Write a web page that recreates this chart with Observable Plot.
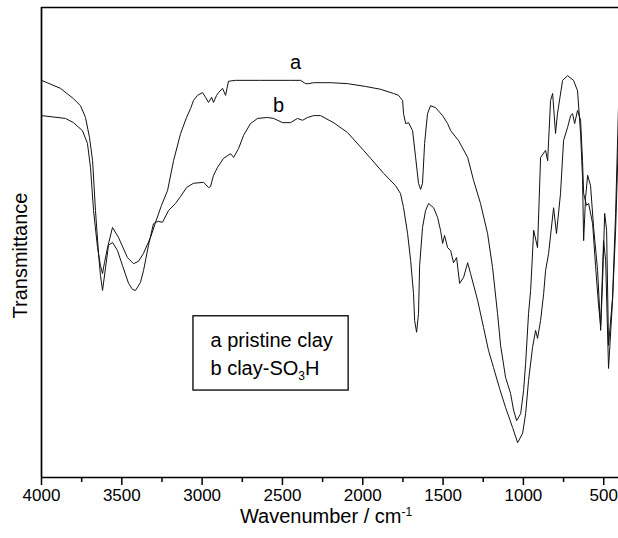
<!DOCTYPE html>
<html><head><meta charset="utf-8">
<script src="https://cdn.jsdelivr.net/npm/d3@7"></script>
<script src="https://cdn.jsdelivr.net/npm/@observablehq/plot@0.6"></script>
<style>body{margin:0;background:#fff;} #chart{width:618px;height:538px;}</style>
</head><body><div id="chart"></div>
<script>
// Spectrum a: pristine clay  [wavenumber cm-1, transmittance (a.u.)]
const seriesA = [[4000,84.5],[3882,82.8],[3801,80.6],[3757,79.1],[3726,76.6],[3701,72.3],[3682,67.4],[3664,56.8],[3645,47.7],[3633,43.0],[3620,39.8],[3601,44.7],[3583,49.4],[3558,50.0],[3527,48.3],[3496,45.1],[3458,41.3],[3433,40.0],[3415,39.8],[3384,41.5],[3365,44.0],[3334,49.4],[3303,54.0],[3290,54.3],[3253,57.9],[3215,61.1],[3178,67.4],[3134,73.2],[3097,76.6],[3072,78.5],[3054,80.2],[3029,81.3],[2997,81.9],[2979,80.9],[2960,79.8],[2941,80.9],[2929,79.8],[2910,81.3],[2898,81.9],[2873,82.8],[2854,81.3],[2836,84.3],[2792,84.5],[2636,84.5],[2450,84.5],[2387,84.5],[2356,83.8],[2337,83.8],[2306,84.0],[2200,84.0],[2095,83.8],[1983,83.2],[1889,82.6],[1808,81.7],[1777,81.3],[1752,80.2],[1746,77.4],[1733,75.3],[1715,75.5],[1690,73.8],[1671,68.1],[1653,62.6],[1640,61.3],[1628,62.6],[1615,71.1],[1597,77.4],[1578,79.1],[1547,78.7],[1503,77.0],[1472,75.3],[1453,73.8],[1404,71.7],[1347,68.1],[1310,63.2],[1267,58.3],[1223,51.9],[1192,44.7],[1161,34.9],[1142,28.1],[1111,21.3],[1080,17.9],[1061,14.3],[1042,12.1],[1017,13.6],[999,18.5],[986,24.3],[968,34.9],[955,39.8],[936,52.6],[912,48.9],[893,68.1],[862,69.6],[849,67.4],[831,80.2],[818,81.7],[800,73.2],[788,77.4],[756,84.5],[725,85.5],[688,84.5],[663,82.3],[644,73.2],[632,63.8],[625,50.4],[613,59.6],[600,64.3],[582,62.1],[563,53.2],[538,44.0],[519,31.3],[507,41.9],[494,56.2],[482,52.6],[470,28.1],[445,38.3],[426,56.2],[407,80.2]];

// Spectrum b: clay-SO3H
const seriesB = [[4000,77.0],[3851,76.4],[3801,75.5],[3745,73.8],[3714,71.1],[3695,66.0],[3676,56.8],[3651,48.9],[3633,45.1],[3620,43.4],[3608,45.7],[3589,48.9],[3558,53.2],[3521,51.1],[3465,46.8],[3427,45.5],[3396,46.0],[3365,47.7],[3321,51.1],[3290,54.3],[3271,54.5],[3247,54.3],[3209,56.8],[3166,58.3],[3134,59.8],[3097,61.7],[3054,62.6],[2991,62.8],[2960,61.7],[2948,61.9],[2929,64.3],[2904,66.0],[2867,67.9],[2823,68.9],[2804,68.1],[2773,70.0],[2742,72.8],[2699,75.3],[2655,76.4],[2593,76.6],[2555,76.4],[2499,75.5],[2450,75.5],[2406,76.4],[2375,76.0],[2344,76.6],[2306,77.0],[2263,77.0],[2182,75.5],[2095,73.4],[1995,69.6],[1951,67.9],[1870,64.7],[1796,62.1],[1765,60.4],[1746,57.4],[1721,51.9],[1702,46.2],[1684,39.1],[1677,33.4],[1665,30.9],[1653,34.9],[1646,45.1],[1628,53.2],[1609,56.8],[1590,58.3],[1559,57.4],[1534,55.3],[1516,52.6],[1503,49.8],[1491,51.5],[1472,48.9],[1453,48.3],[1435,45.7],[1416,46.8],[1397,41.3],[1372,42.6],[1347,45.7],[1329,43.4],[1285,37.7],[1248,31.9],[1217,27.0],[1186,23.4],[1148,18.9],[1111,14.9],[1067,10.6],[1036,7.4],[1005,9.4],[986,13.6],[968,20.6],[943,27.7],[924,31.3],[912,29.6],[893,33.4],[874,39.1],[862,44.0],[843,47.7],[812,57.4],[794,51.9],[769,60.4],[750,71.7],[725,74.5],[706,77.0],[694,77.4],[681,75.3],[663,78.1],[644,76.0],[632,67.4],[625,60.4],[607,57.9],[594,58.3],[569,54.0],[551,45.1],[532,36.6],[519,32.3],[501,50.4],[488,46.2],[470,23.2],[445,37.7],[426,52.6],[407,73.8]];

const majorTicks = [4000, 3500, 3000, 2500, 2000, 1500, 1000, 500];
const minorTicks = [3750, 3250, 2750, 2250, 1750, 1250, 750];
const xLabel = "Wavenumber / cm-1";
const yLabel = "Transmittance";
const curveNames = ["a", "b"];
const legendLines = ["a pristine clay", "b clay-SO3H"];

const data = [
  ...seriesA.map(([wn, t]) => ({wn, t, s: "a"})),
  ...seriesB.map(([wn, t]) => ({wn, t, s: "b"}))
];

const font = "'Liberation Sans', Arial, Helvetica, sans-serif";

const chart = Plot.plot({
  width: 618, height: 538,
  marginLeft: 41, marginRight: 0, marginTop: 7, marginBottom: 61,
  style: {fontFamily: font, background: "white", color: "black", overflow: "visible"},
  x: {domain: [4000, 408]},
  y: {domain: [0, 100], axis: null},
  marks: [
    Plot.line(data, {x: "wn", y: "t", z: "s", stroke: "#111", strokeWidth: 1, clip: true}),
    Plot.ruleX([4000], {strokeWidth: 1.7, stroke: "black"}),
    Plot.ruleY([0, 100], {strokeWidth: 1.7, stroke: "black"}),
    Plot.axisX({ticks: majorTicks, tickSize: 8, tickPadding: 3, fontSize: 17, label: null,
                tickFormat: d => String(d), strokeWidth: 1.5, anchor: "bottom"}),
    Plot.axisX({ticks: minorTicks, tickSize: 5, tickFormat: () => "", label: null,
                strokeWidth: 1.5, anchor: "bottom"}),
    Plot.text(curveNames, {x: [2418, 2524], y: [88.3, 79.1], text: d => d, fontSize: 20}),
    Plot.rect([0], {x1: 3054, x2: 2088, y1: 18.5, y2: 34.3, fill: "white", stroke: "black", strokeWidth: 1.3}),
    Plot.text(legendLines, {x: 2948, y: [29.1, 23.2], text: d => d, textAnchor: "start", fontSize: 20}),
    Plot.text([xLabel], {frameAnchor: "bottom", dy: 45, dx: -4, fontSize: 20, textAnchor: "middle"}),
    Plot.text([yLabel], {frameAnchor: "left", dx: -21, dy: 13, rotate: -90, fontSize: 20, textAnchor: "middle"})
  ]
});

// superscript / subscript formatting
const NS = "http://www.w3.org/2000/svg";
chart.querySelectorAll("text").forEach(el => {
  const s = el.textContent;
  if (s === xLabel) {
    el.textContent = "Wavenumber / cm";
    const t = document.createElementNS(NS, "tspan");
    t.setAttribute("dy", "-7px");
    t.setAttribute("font-size", "12px");
    t.textContent = "-1";
    el.appendChild(t);
  } else if (s === legendLines[1]) {
    el.textContent = "b clay-SO";
    const t = document.createElementNS(NS, "tspan");
    t.setAttribute("dy", "5px");
    t.setAttribute("font-size", "12px");
    t.textContent = "3";
    el.appendChild(t);
    const h = document.createElementNS(NS, "tspan");
    h.setAttribute("dy", "-5px");
    h.setAttribute("font-size", "20px");
    h.textContent = "H";
    el.appendChild(h);
  }
});

document.getElementById("chart").appendChild(chart);
</script>
</body></html>
